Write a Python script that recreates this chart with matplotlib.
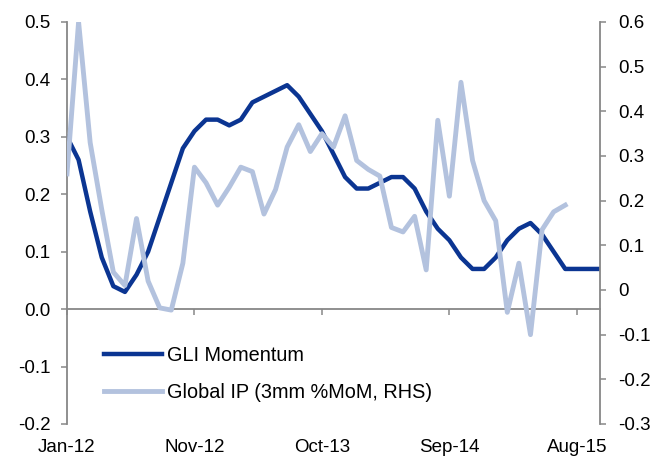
import numpy as np
import matplotlib
matplotlib.use("Agg")
import matplotlib.pyplot as plt
from matplotlib.ticker import FixedLocator, FixedFormatter

plt.rcParams['font.family'] = ['Liberation Sans', 'DejaVu Sans']

# ---- data (monthly, Jan-12 onward) ----
gli_momentum = [0.30, 0.26, 0.17, 0.09, 0.04, 0.03, 0.06, 0.10, 0.16, 0.22, 0.28, 0.31,
                0.33, 0.33, 0.32, 0.33, 0.36, 0.37, 0.38, 0.39, 0.37, 0.34, 0.31, 0.27,
                0.23, 0.21, 0.21, 0.22, 0.23, 0.23, 0.21, 0.17, 0.14, 0.12, 0.09, 0.07,
                0.07, 0.09, 0.12, 0.14, 0.15, 0.13, 0.10, 0.07, 0.07, 0.07, 0.07]
global_ip = [0.26, 0.60, 0.33, 0.18, 0.04, 0.01, 0.16, 0.02, -0.04, -0.045, 0.06, 0.275,
             0.24, 0.19, 0.23, 0.275, 0.265, 0.17, 0.225, 0.32, 0.37, 0.31, 0.35, 0.32,
             0.39, 0.29, 0.27, 0.255, 0.14, 0.13, 0.165, 0.045, 0.38, 0.21, 0.465, 0.29,
             0.20, 0.155, -0.05, 0.06, -0.10, 0.135, 0.175, 0.19]
xtick_pos = [0, 11, 22, 33, 44]
xtick_labels = ["Jan-12", "Nov-12", "Oct-13", "Sep-14", "Aug-15"]
left_ticks = [-0.2, -0.1, 0.0, 0.1, 0.2, 0.3, 0.4, 0.5]
left_labels = ["-0.2", "-0.1", "0.0", "0.1", "0.2", "0.3", "0.4", "0.5"]
right_ticks = [-0.3, -0.2, -0.1, 0.0, 0.1, 0.2, 0.3, 0.4, 0.5, 0.6]
right_labels = ["-0.3", "-0.2", "-0.1", "0", "0.1", "0.2", "0.3", "0.4", "0.5", "0.6"]

DARK = '#0B3592'
LIGHT = '#B3C2DE'
GRAY = '#878787'
FS = 13.5
LFS = 14.3

fig = plt.figure(figsize=(6.65, 4.57), dpi=100)
ax = fig.add_axes([67/665, 1-424/457, (600-67)/665, (424-22)/457])
ax2 = ax.twinx()

x1 = np.arange(len(gli_momentum))
x2 = np.arange(len(global_ip))
l1, = ax.plot(x1, gli_momentum, color=DARK, lw=3.2, solid_joinstyle='round',
              label='GLI Momentum')
l2, = ax2.plot(x2, global_ip, color=LIGHT, lw=3.5, solid_joinstyle='round',
               label='Global IP (3mm %MoM, RHS)')

ax.set_xlim(0, 46)
ax.set_ylim(-0.2, 0.5)
ax2.set_ylim(-0.3, 0.6)

ax.yaxis.set_major_locator(FixedLocator(left_ticks))
ax.yaxis.set_major_formatter(FixedFormatter(left_labels))
ax2.yaxis.set_major_locator(FixedLocator(right_ticks))
ax2.yaxis.set_major_formatter(FixedFormatter(right_labels))

ax.set_xticks(xtick_pos)
ax.set_xticklabels(xtick_labels)
ax.tick_params(axis='x', length=0, pad=11, labelsize=FS)
ax.tick_params(axis='y', direction='out', length=4, width=1.1, color=GRAY,
               pad=8, labelsize=FS)
ax2.tick_params(axis='y', direction='out', length=4, width=1.1, color=GRAY,
                pad=9, labelsize=FS)

for s in ['top', 'right', 'bottom']:
    ax.spines[s].set_visible(False)
for s in ['top', 'left', 'bottom']:
    ax2.spines[s].set_visible(False)
ax.spines['left'].set_color(GRAY)
ax.spines['left'].set_linewidth(1.3)
ax2.spines['right'].set_color(GRAY)
ax2.spines['right'].set_linewidth(1.3)

# zero line with tick marks
sec = ax.secondary_xaxis(0.2 / 0.7)
sec.set_xticks(xtick_pos)
sec.set_xticklabels([])
sec.tick_params(axis='x', direction='out', length=4, width=1.1, color=GRAY)
sec.spines['bottom'].set_color(GRAY)
sec.spines['bottom'].set_linewidth(1.3)

leg = ax.legend(handles=[l1, l2], loc='upper left', frameon=False,
                bbox_to_anchor=(104/665, 1-346/457), bbox_transform=fig.transFigure,
                fontsize=LFS, handlelength=2.9, handletextpad=0.26,
                labelspacing=0.92, borderpad=0, borderaxespad=0)

fig.savefig('out.png', dpi=100)
